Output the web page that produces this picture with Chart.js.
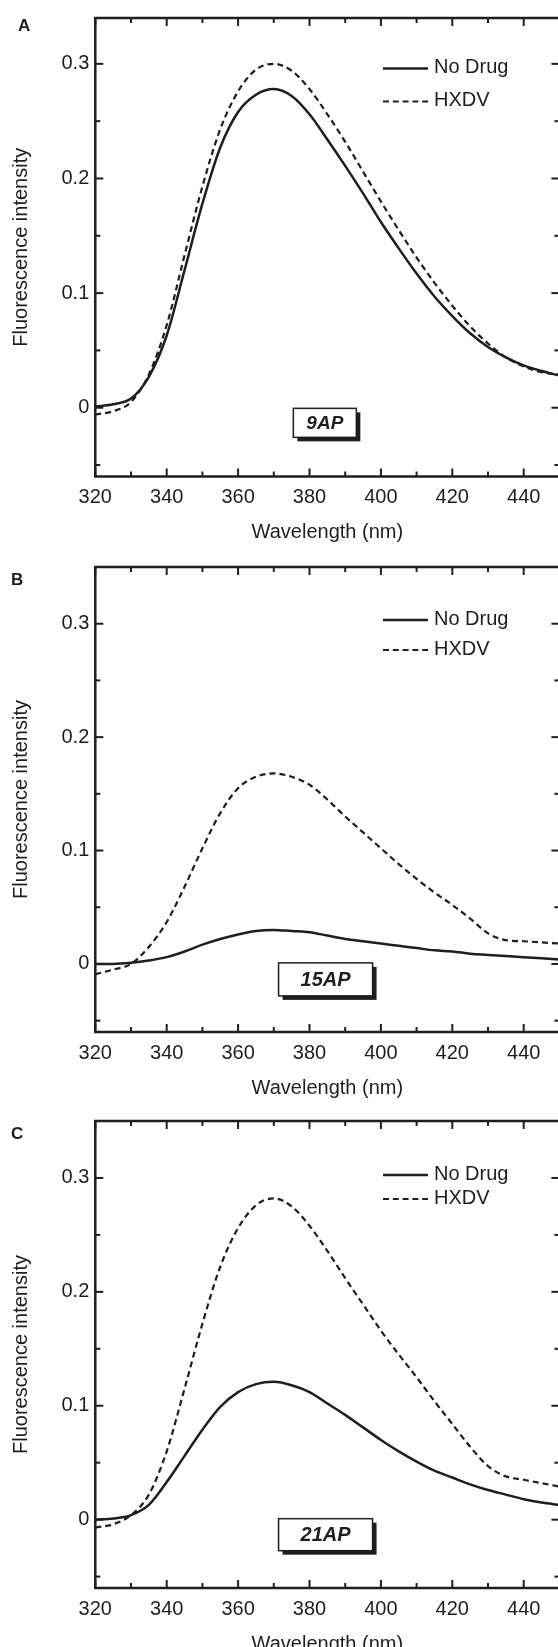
<!DOCTYPE html>
<html>
<head>
<meta charset="utf-8">
<script src="https://cdn.jsdelivr.net/npm/chart.js@4.4.1/dist/chart.umd.min.js"></script>
<style>
  html, body { margin: 0; padding: 0; background: #fff; overflow: hidden; width: 558px; height: 1647px; }
  .panel { position: absolute; left: 0; }
  .panel-letter { position: absolute; font: bold 17px "Liberation Sans", Arial, sans-serif; line-height: 17px; color: #1e1e1e; }
</style>
</head>
<body>
<div class="panel" style="top:0px"><canvas id="chart-a" width="600" height="545"></canvas></div>
<div class="panel" style="top:545px"><canvas id="chart-b" width="600" height="555"></canvas></div>
<div class="panel" style="top:1100px"><canvas id="chart-c" width="600" height="560"></canvas></div>
<div class="panel-letter" style="left:18px;top:17px">A</div>
<div class="panel-letter" style="left:11px;top:571px">B</div>
<div class="panel-letter" style="left:11px;top:1125px">C</div>

<script>
// ---- data ----
const wavelengths = [320, 325, 330, 335, 340, 345, 350, 355, 360, 365, 370, 375, 380, 385,
                     390, 395, 400, 405, 410, 415, 420, 425, 430, 435, 440, 445, 450];

const noDrug9AP = [0.001, 0.003, 0.008, 0.027, 0.063, 0.120, 0.178, 0.227, 0.258, 0.273, 0.278, 0.272, 0.256, 0.234,
                   0.211, 0.187, 0.162, 0.139, 0.117, 0.097, 0.080, 0.065, 0.053, 0.044, 0.037, 0.032, 0.028];
const hxdv9AP   = [-0.006, -0.003, 0.005, 0.029, 0.072, 0.133, 0.193, 0.243, 0.276, 0.295, 0.300, 0.294, 0.278, 0.256,
                   0.232, 0.206, 0.180, 0.155, 0.131, 0.109, 0.089, 0.071, 0.056, 0.044, 0.036, 0.031, 0.029];

const noDrug15AP = [0.000, 0.000, 0.001, 0.003, 0.006, 0.011, 0.017, 0.022, 0.026, 0.029, 0.030, 0.029, 0.028, 0.025,
                    0.022, 0.020, 0.018, 0.016, 0.014, 0.012, 0.011, 0.009, 0.008, 0.007, 0.006, 0.005, 0.004];
const hxdv15AP   = [-0.009, -0.005, 0.000, 0.015, 0.037, 0.068, 0.102, 0.133, 0.155, 0.165, 0.168, 0.165, 0.158, 0.145,
                    0.130, 0.116, 0.102, 0.088, 0.075, 0.063, 0.052, 0.040, 0.027, 0.021, 0.020, 0.019, 0.018];

const noDrug21AP = [0.000, 0.001, 0.004, 0.013, 0.033, 0.056, 0.079, 0.099, 0.112, 0.119, 0.121, 0.118, 0.112, 0.102,
                    0.092, 0.081, 0.070, 0.060, 0.051, 0.043, 0.037, 0.031, 0.026, 0.022, 0.018, 0.015, 0.013];
const hxdv21AP   = [-0.007, -0.004, 0.004, 0.022, 0.060, 0.115, 0.172, 0.222, 0.256, 0.276, 0.282, 0.275, 0.258, 0.236,
                    0.212, 0.189, 0.166, 0.145, 0.125, 0.104, 0.084, 0.064, 0.047, 0.038, 0.035, 0.032, 0.029];

const seriesLabels = ["No Drug", "HXDV"];
const xMajorTicks = [320, 340, 360, 380, 400, 420, 440];
const xMinorTicks = [330, 350, 370, 390, 410, 430, 450];
const yMajorTicks = [0, 0.1, 0.2, 0.3];
const yMinorTicks = [-0.05, 0.05, 0.15, 0.25];

// ---- look ----
const INK = "#1e1e1e";
const FONT = "'Liberation Sans', Arial, Helvetica, sans-serif";
const CANVAS_W = 600;
const PLOT_LEFT = 95.3;
const PLOT_RIGHT = 559.4;
const TITLE_GAP = 56;

const toPoints = ys => wavelengths.map((x, i) => ({ x, y: ys[i] }));

function line(ctx, x1, y1, x2, y2) {
  ctx.beginPath();
  ctx.moveTo(x1, y1);
  ctx.lineTo(x2, y2);
  ctx.stroke();
}

// frame with inward ticks on all four sides
const framePlugin = {
  id: "frame",
  afterDatasetsDraw(chart) {
    const { ctx, chartArea: a, scales: { x, y } } = chart;
    ctx.save();
    ctx.strokeStyle = INK;
    ctx.lineWidth = 2;
    const xt = (vals, len) => vals.forEach(v => {
      const px = x.getPixelForValue(v);
      line(ctx, px, a.bottom, px, a.bottom - len);
      line(ctx, px, a.top, px, a.top + len);
    });
    const yt = (vals, len) => vals.forEach(v => {
      const py = y.getPixelForValue(v);
      line(ctx, a.left, py, a.left + len, py);
      line(ctx, a.right, py, a.right - len, py);
    });
    xt(xMajorTicks, 8); xt(xMinorTicks, 5);
    yt(yMajorTicks, 8); yt(yMinorTicks, 5);
    ctx.lineWidth = 2.5;
    ctx.strokeRect(a.left, a.top, a.right - a.left, a.bottom - a.top);
    ctx.restore();
  }
};

const legendPlugin = {
  id: "keyBox",
  afterDatasetsDraw(chart, args, opts) {
    const { ctx, chartArea: a } = chart;
    ctx.save();
    ctx.font = `20px ${FONT}`;
    ctx.fillStyle = INK;
    ctx.textBaseline = "middle";
    chart.data.datasets.forEach((ds, i) => {
      const yy = a.top + opts.rows[i];
      ctx.strokeStyle = INK;
      ctx.lineWidth = ds.borderWidth;
      ctx.setLineDash(i === 0 ? [] : [6, 3.8]);
      line(ctx, 383, yy + 1, 428, yy + 1);
      ctx.setLineDash([]);
      ctx.fillText(ds.label, 434, yy);
    });
    ctx.restore();
  }
};

const samplePlugin = {
  id: "sampleBox",
  afterDatasetsDraw(chart, args, opts) {
    const { ctx, scales: { x, y } } = chart;
    const cx = x.getPixelForValue(opts.x), cy = y.getPixelForValue(opts.y);
    const l = cx - opts.w / 2, t = cy - opts.h / 2;
    ctx.save();
    ctx.fillStyle = INK;
    ctx.fillRect(l + 4, t + 4, opts.w, opts.h);
    ctx.fillStyle = "#fff";
    ctx.fillRect(l, t, opts.w, opts.h);
    ctx.strokeStyle = INK;
    ctx.lineWidth = 1.5;
    ctx.strokeRect(l, t, opts.w, opts.h);
    ctx.fillStyle = INK;
    ctx.font = `italic bold ${opts.size}px ${FONT}`;
    ctx.textAlign = "center";
    ctx.textBaseline = "middle";
    ctx.fillText(opts.text, cx, cy + 1);
    ctx.restore();
  }
};

function makePanel(p) {
  const canvas = document.getElementById(p.id);
  const canvasH = canvas.height;
  const plotTop = p.plotTop - p.canvasTop;
  const plotBottom = p.plotBottom - p.canvasTop;
  return new Chart(canvas, {
    type: "line",
    data: {
      datasets: [
        { label: seriesLabels[0], data: toPoints(p.noDrug), borderColor: INK, borderWidth: 2.5,
          pointRadius: 0, cubicInterpolationMode: "monotone" },
        { label: seriesLabels[1], data: toPoints(p.hxdv), borderColor: INK, borderWidth: 2.2,
          borderDash: [6, 4], pointRadius: 0, cubicInterpolationMode: "monotone" }
      ]
    },
    options: {
      responsive: false,
      animation: false,
      devicePixelRatio: 1,
      layout: { padding: { top: plotTop, right: CANVAS_W - PLOT_RIGHT, left: 0, bottom: 0 } },
      plugins: {
        legend: { display: false },
        tooltip: { enabled: false },
        keyBox: { rows: p.legendRows },
        sampleBox: p.sample
      },
      scales: {
        x: {
          type: "linear", min: 320, max: 450,
          grid: { display: false, drawTicks: false },
          border: { display: false },
          afterBuildTicks: s => { s.ticks = xMajorTicks.map(v => ({ value: v })); },
          afterFit: s => { s.height = canvasH - plotBottom; },
          ticks: { color: INK, font: { family: FONT, size: 20 }, padding: 9, maxRotation: 0, autoSkip: false,
                   callback: v => String(v) },
          title: { display: true, text: "Wavelength (nm)", color: INK, font: { family: FONT, size: 20 },
                   padding: { top: 0, bottom: canvasH - plotBottom - TITLE_GAP - 12 } }
        },
        y: {
          type: "linear", min: p.yMin, max: p.yMax,
          grid: { display: false, drawTicks: false },
          border: { display: false },
          afterBuildTicks: s => { s.ticks = yMajorTicks.map(v => ({ value: v })); },
          afterFit: s => { s.width = PLOT_LEFT; },
          ticks: { color: INK, font: { family: FONT, size: 20 }, padding: 6, autoSkip: false,
                   callback: v => (v === 0 ? "0" : v.toFixed(1)) },
          title: { display: true, text: "Fluorescence intensity", color: INK, font: { family: FONT, size: 20 },
                   padding: { top: 9, bottom: 0 } }
        }
      }
    },
    plugins: [framePlugin, legendPlugin, samplePlugin]
  });
}

makePanel({ id: "chart-a", canvasTop: 0, plotTop: 12.7, plotBottom: 476.5, yMin: -0.06, yMax: 0.34,
  noDrug: noDrug9AP, hxdv: hxdv9AP, legendRows: [49.5, 82.5],
  sample: { text: "9AP", x: 384.3, y: -0.0132, w: 63, h: 29, size: 19 } });

makePanel({ id: "chart-b", canvasTop: 545, plotTop: 567, plotBottom: 1032, yMin: -0.06, yMax: 0.35,
  noDrug: noDrug15AP, hxdv: hxdv15AP, legendRows: [52, 82],
  sample: { text: "15AP", x: 384.5, y: -0.0136, w: 94, h: 33, size: 20 } });

makePanel({ id: "chart-c", canvasTop: 1100, plotTop: 1121, plotBottom: 1588, yMin: -0.06, yMax: 0.35,
  noDrug: noDrug21AP, hxdv: hxdv21AP, legendRows: [53, 77],
  sample: { text: "21AP", x: 384.5, y: -0.0132, w: 94, h: 32, size: 20 } });
</script>
</body>
</html>
